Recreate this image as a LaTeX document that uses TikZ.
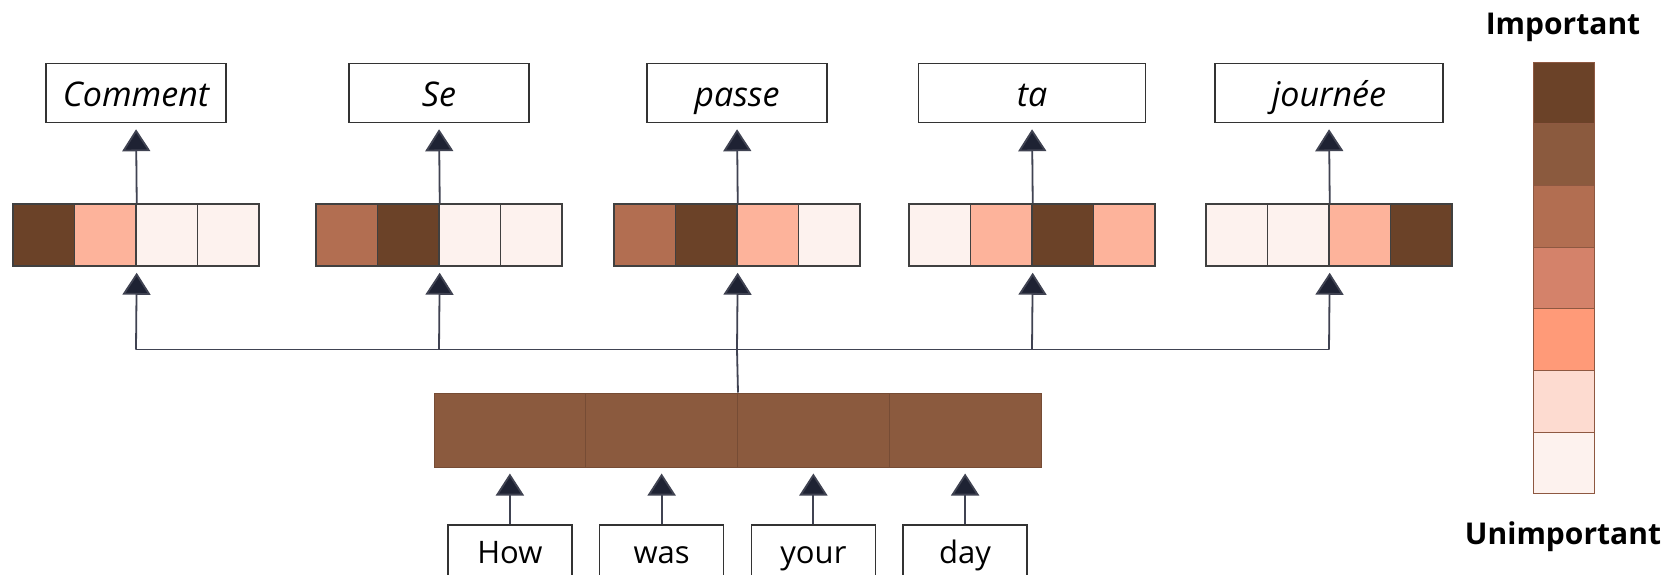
\documentclass[tikz,border=0pt]{standalone}
\usepackage{fontspec}
\setmainfont{Open Sans}
\usetikzlibrary{arrows.meta}
\definecolor{attdark}{HTML}{6B4228}
\definecolor{attbrown}{HTML}{8B5A3E}
\definecolor{attmid}{HTML}{B26E51}
\definecolor{attrose}{HTML}{D4826A}
\definecolor{attcoral}{HTML}{FF9A78}
\definecolor{attsalmon}{HTML}{FDB39B}
\definecolor{attpale}{HTML}{FDDBD0}
\definecolor{attlight}{HTML}{FDF2EE}
\definecolor{linkcol}{HTML}{1E2233}
\tikzset{
    wordbox/.style={draw=black!80,line width=1.5pt,minimum height=59pt,inner sep=0pt},
    outword/.style={wordbox,text height=27pt,text depth=0pt,font=\fontsize{34}{36}\selectfont\itshape},
    inword/.style={wordbox,minimum width=124pt,text height=23pt,text depth=6pt,font=\fontsize{31}{36}\selectfont},
    cell/.style={draw=black!75,line width=1.5pt,minimum width=61.5pt,minimum height=62pt,inner sep=0pt},
    enccell/.style={draw=attbrown!85!black,line width=1pt,fill=attbrown,minimum width=151.75pt,
        minimum height=74pt,inner sep=0pt},
    keycell/.style={draw=attmid!80!black,line width=1pt,minimum width=61pt,minimum height=61.7pt,inner sep=0pt},
    keylabel/.style={font=\bfseries\fontsize{30}{36}\selectfont},
    link/.style={draw=linkcol!85!white,line width=1.8pt},
    arr/.style={link,-{Triangle[width=28pt,length=22pt,fill=linkcol]},shorten >=6pt}
}
\begin{document}
\begin{tikzpicture}[x=1pt,y=-1pt]
                \useasboundingbox (0,0) rectangle (1676,574);
                \clip (0,0) rectangle (1676,574);
                \fill[white] (0,0) rectangle (1676,574);
                \foreach \r/\x/\w/\word in {1/136/180/Comment,2/439/180/Se,3/737/180/passe,
                        4/1032/227/ta,5/1329/228/journée}
                    \node[outword,minimum width=\w pt] (o\r) at (\x,93) {\word};
                \foreach \r/\x/\ca/\cb/\cc/\cd in {1/136/attdark/attsalmon/attlight/attlight,
                        2/439/attmid/attdark/attlight/attlight,3/737/attmid/attdark/attsalmon/attlight,
                        4/1032/attlight/attsalmon/attdark/attsalmon,5/1329/attlight/attlight/attsalmon/attdark}{
                    \foreach \col [count=\i] in {\ca,\cb,\cc,\cd}
                        \node[cell,fill=\col] (r\r-\i) at ({\x+(\i-2.5)*61.5},235) {};
                    \coordinate (b\r) at (\x,349.5);
                    \draw[arr] (r\r-2.north east) -- (o\r.south);
                    \draw[arr] (b\r) -- (r\r-2.south east);
                }
                \draw[link] (b1) -- (b5);
                \foreach \i/\word in {1/How,2/was,3/your,4/day}{
                    \node[enccell] (e\i) at ({434+(\i-0.5)*151.75},430) {};
                    \node[inword] (w\i) at ({434+(\i-0.5)*151.75},554.5) {\word};
                    \draw[arr] (w\i.north) -- (e\i.south);
                }
                \draw[link] (e2.north east) -- (b3);
                \foreach \col [count=\i] in {attdark,attbrown,attmid,attrose,attcoral,attpale,attlight}
                    \node[keycell,fill=\col] (k\i) at (1563.5,{62+(\i-0.5)*61.7}) {};
                \node[keylabel] (imp) at (1563,27) {Important};
                \node[keylabel] (unimp) at (1563,537) {Unimportant};
            \end{tikzpicture}
\end{document}
